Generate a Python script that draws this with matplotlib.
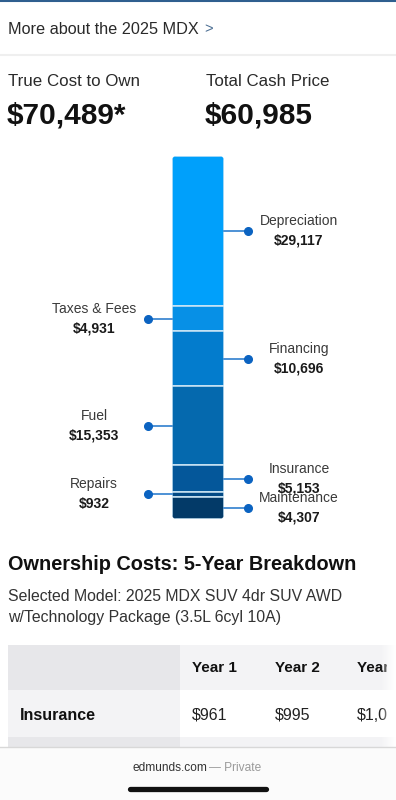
import numpy as np
import matplotlib.pyplot as plt
from matplotlib.patches import FancyBboxPatch, Rectangle

plt.rcParams['font.family'] = ['Liberation Sans', 'DejaVu Sans']

# cost breakdown, top of the bar first
labels = ['Depreciation', 'Taxes & Fees', 'Financing', 'Fuel', 'Insurance', 'Repairs', 'Maintenance']
costs = [29117, 4931, 10696, 15353, 5153, 932, 4307]
sides = ['right', 'left', 'right', 'left', 'right', 'left', 'right']
colors = ['#00a0fb', '#0790e6', '#037ccd', '#0569ae', '#04579a', '#034a85', '#033a68']

true_cost = '$70,489*'
cash_price = '$60,985'
model_name = 'Selected Model: 2025 MDX SUV 4dr SUV AWD\nw/Technology Package (3.5L 6cyl 10A)'
years = ['Year 1', 'Year 2', 'Year 3']
insurance_by_year = ['$961', '$995', '$1,031']

W, H = 396, 800
fig = plt.figure(figsize=(W / 100, H / 100), dpi=100)
fig.patch.set_facecolor('white')

# page background in pixel coords
bg = fig.add_axes([0, 0, 1, 1])
bg.set_xlim(0, W)
bg.set_ylim(H, 0)
bg.axis('off')

bg.plot([0, W], [0.8, 0.8], color='#2f5f8f', lw=1.5)
bg.text(8, 29, 'More about the 2025 MDX', fontsize=11.7, color='#2a2a2a', va='center')
bg.text(204, 29, '>', fontsize=10.5, color='#4a6d92', va='center')
bg.plot([0, W], [55, 55], color='#efefef', lw=1.5)

bg.text(8, 82, 'True Cost to Own', fontsize=12.2, color='#2a2a2a', va='center')
bg.text(206, 82, 'Total Cash Price', fontsize=12.2, color='#2a2a2a', va='center')
bg.text(7, 115, true_cost, fontsize=21.5, fontweight='bold', color='#111111', va='center')
bg.text(205, 115, cash_price, fontsize=21.5, fontweight='bold', color='#111111', va='center')

# stacked bar
ax = fig.add_axes([140 / W, 1 - 519 / H, 116 / W, 363 / H])
ax.axis('off')
total = sum(costs)
ax.set_xlim(-1, 1)
ax.set_ylim(total, 0)

clip = FancyBboxPatch((172, 156), 52, 363, boxstyle='round,pad=0,rounding_size=5',
                      transform=bg.transData, facecolor='none', edgecolor='none')
bg.add_patch(clip)

bottoms = np.concatenate([[0], np.cumsum(costs)[:-1]])
bars = ax.bar(0, costs, width=0.897, bottom=bottoms, color=colors,
              edgecolor='#cfe7f6', linewidth=1.1)
for b in bars:
    b.set_clip_path(clip)

bar_edge = 0.897 / 2
for name, val, side, b0 in zip(labels, costs, sides, bottoms):
    mid = b0 + val / 2
    sgn = 1 if side == 'right' else -1
    ax.plot([sgn * bar_edge, sgn * 0.865], [mid, mid], color='#2f7fce', lw=1.2, clip_on=False)
    ax.plot(sgn * 0.865, mid, 'o', ms=5.5, color='#0b63c1', clip_on=False)
    tx = 1.74 if side == 'right' else -1.79
    ax.annotate(name, (tx, mid), xytext=(0, 7.2), textcoords='offset points',
                ha='center', va='center', fontsize=10, color='#3a3a3a', annotation_clip=False)
    ax.annotate('${:,}'.format(val), (tx, mid), xytext=(0, -7.2), textcoords='offset points',
                ha='center', va='center', fontsize=10, fontweight='bold', color='#1a1a1a',
                annotation_clip=False)

# breakdown section
bg.text(8, 565, 'Ownership Costs: 5-Year Breakdown', fontsize=14.3, fontweight='bold',
        color='#111111', va='center')
bg.text(8, 607, model_name, fontsize=11.4, color='#333333', va='center', linespacing=1.5)

bg.add_patch(Rectangle((8, 645), 172, 45, color='#e7e7ea', lw=0))
bg.add_patch(Rectangle((180, 645), 216, 45, color='#f3f3f5', lw=0))
bg.add_patch(Rectangle((8, 690), 172, 47, color='#f3f3f5', lw=0))
bg.add_patch(Rectangle((8, 737), 172, 12, color='#e7e7ea', lw=0))
bg.add_patch(Rectangle((180, 737), 216, 12, color='#f3f3f5', lw=0))

# table is scrolled: the third column is cut at the screen edge
tclip = Rectangle((0, 0), 387, H, transform=bg.transData)
col_x = [192, 275, 357]
for x, y_lab, v in zip(col_x, years, insurance_by_year):
    t1 = bg.text(x, 668, y_lab, fontsize=11, fontweight='bold', color='#111111', va='center')
    t2 = bg.text(x, 715, v, fontsize=11.5, color='#222222', va='center')
    for t in (t1, t2):
        t.set_clip_on(True)
        t.set_clip_path(tclip)
bg.text(20, 715, 'Insurance', fontsize=11.5, fontweight='bold', color='#111111', va='center')

# fade on the right edge of the table
fade = np.ones((1, 20, 4))
fade[..., 3] = np.linspace(0, 1, 20)
bg.imshow(fade, extent=(380, 396, 750, 640), aspect='auto', zorder=3)

# browser footer
bg.add_patch(Rectangle((0, 747), W, 53, color='#fbfbfb', lw=0, zorder=4))
bg.plot([0, W], [747, 747], color='#d8d8d8', lw=1, zorder=5)
bg.text(207, 768, 'edmunds.com', fontsize=8.6, color='#333333', ha='right', va='center', zorder=5)
bg.text(209, 768, '— Private', fontsize=8.6, color='#9a9a9a', ha='left', va='center', zorder=5)
bg.plot([130, 266], [789, 789], color='#111111', lw=3.8, solid_capstyle='round', zorder=5)

bg.set_xlim(0, W)
bg.set_ylim(H, 0)
fig.savefig('out.png', dpi=100)
